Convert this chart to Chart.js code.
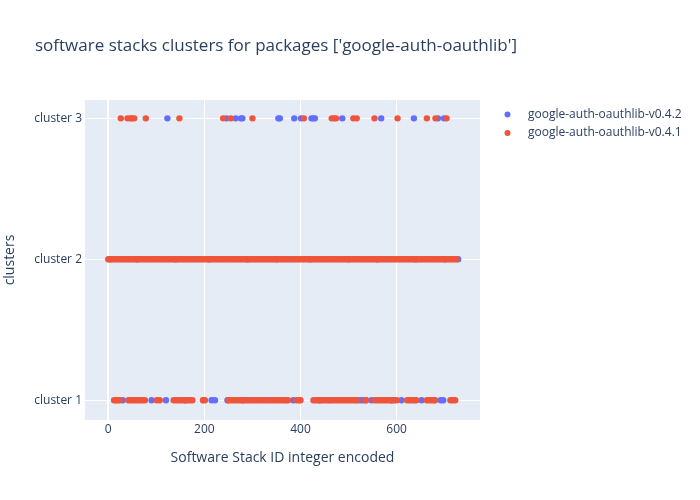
<!DOCTYPE html>
<html>
<head>
<meta charset="utf-8">
<script src="https://cdn.jsdelivr.net/npm/chart.js@4"></script>
<style>
  html, body { margin: 0; padding: 0; background: #ffffff; }
  #wrap { position: relative; width: 700px; height: 500px; }
</style>
</head>
<body>
<div id="wrap"><canvas id="c" width="700" height="500"></canvas></div>
<script>
const chartTitle = "software stacks clusters for packages ['google-auth-oauthlib']";
const xTitle = "Software Stack ID integer encoded";
const yTitle = "clusters";
const categories = ["cluster 1", "cluster 2", "cluster 3"];
const seriesNames = ["google-auth-oauthlib-v0.4.2", "google-auth-oauthlib-v0.4.1"];
const seriesColors = ["#636efa", "#EF553B"];

// google-auth-oauthlib-v0.4.2 (blue)
const blueCluster1 = [30, 90, 120, 160, 215, 222, 248, 280, 290, 330, 385, 440, 461, 524, 530, 548, 590, 610, 652, 692, 697];
const blueCluster2 = [3, 60, 140, 210, 290, 350, 420, 500, 560, 640, 700, 728];
const blueCluster3 = [123, 246, 265, 276, 279, 354, 357, 387, 401, 423, 427, 430, 487, 568, 636, 686, 699];

// google-auth-oauthlib-v0.4.1 (red)
const redCluster1 = [12, 16, 20, 24, 42, 47, 52, 57, 62, 67, 72, 76, 101, 107,
  136, 141, 146, 151, 156, 161, 166, 171, 175, 197, 201,
  250, 255, 260, 265, 270, 275, 280, 285, 295, 300, 305, 310, 315, 320, 325,
  335, 340, 345, 350, 355, 360, 365, 370, 374, 392, 397, 400,
  427, 432, 437, 442, 447, 452, 457, 465, 470, 475, 480, 485, 490, 495, 500, 505, 510, 515, 518,
  535, 537, 555, 560, 565, 570, 575, 580, 585, 590, 595, 600,
  622, 627, 632, 637, 641, 663, 668, 673, 678, 680, 712, 717, 722];
const redCluster2 = [0, 4, 8, 12, 16, 20, 24, 28, 32, 36, 40, 44, 48, 52, 56, 60, 64, 68, 72, 76,
  80, 84, 88, 92, 96, 100, 104, 108, 112, 116, 120, 124, 128, 132, 136, 140, 144, 148, 152, 156,
  160, 164, 168, 172, 176, 180, 184, 188, 192, 196, 200, 204, 208, 212, 216, 220, 224, 228, 232, 236,
  240, 244, 248, 252, 256, 260, 264, 268, 272, 276, 280, 284, 288, 292, 296, 300, 304, 308, 312, 316,
  320, 324, 328, 332, 336, 340, 344, 348, 352, 356, 360, 364, 368, 372, 376, 380, 384, 388, 392, 396,
  400, 404, 408, 412, 416, 420, 424, 428, 432, 436, 440, 444, 448, 452, 456, 460, 464, 468, 472, 476,
  480, 484, 488, 492, 496, 500, 504, 508, 512, 516, 520, 524, 528, 532, 536, 540, 544, 548, 552, 556,
  560, 564, 568, 572, 576, 580, 584, 588, 592, 596, 600, 604, 608, 612, 616, 620, 624, 628, 632, 636,
  640, 644, 648, 652, 656, 660, 664, 668, 672, 676, 680, 684, 688, 692, 696, 700, 704, 708, 712, 716,
  720, 724];
const redCluster3 = [26, 40, 46, 49, 54, 78, 148, 239, 255, 300, 407, 465, 470, 474, 510, 517, 554, 602, 663, 681, 704];

const xTicks = [0, 200, 400, 600];

function pts(c1, c2, c3) {
  return [
    ...c1.map(x => ({ x, y: categories.indexOf("cluster 1") })),
    ...c2.map(x => ({ x, y: categories.indexOf("cluster 2") })),
    ...c3.map(x => ({ x, y: categories.indexOf("cluster 3") }))
  ];
}

const font = "'Open Sans', 'Noto Sans', sans-serif";
const textColor = "#2a3f5f";

const bgPlugin = {
  id: 'bg',
  beforeDraw(chart) {
    const { ctx, chartArea: a } = chart;
    ctx.save();
    ctx.fillStyle = '#E5ECF6';
    ctx.fillRect(a.left, a.top, a.right - a.left, a.bottom - a.top);
    ctx.restore();
  },
  afterDraw(chart) {
    const { ctx } = chart;
    ctx.save();
    ctx.fillStyle = textColor;
    ctx.textBaseline = 'middle';
    ctx.textAlign = 'left';
    ctx.font = "17px " + font;
    ctx.fillText(chartTitle, 35, 46);
    ctx.font = "12px " + font;
    const ly = [114.5, 133];
    seriesNames.forEach((n, i) => {
      ctx.beginPath();
      ctx.fillStyle = seriesColors[i];
      ctx.arc(507.5, ly[i], 3, 0, Math.PI * 2);
      ctx.fill();
      ctx.fillStyle = textColor;
      ctx.fillText(n, 528, ly[i]);
    });
    ctx.restore();
  }
};

new Chart(document.getElementById('c'), {
  type: 'scatter',
  data: {
    datasets: [
      { label: seriesNames[0], data: pts(blueCluster1, blueCluster2, blueCluster3),
        backgroundColor: seriesColors[0], pointRadius: 3.2, borderWidth: 0, order: 2 },
      { label: seriesNames[1], data: pts(redCluster1, redCluster2, redCluster3),
        backgroundColor: seriesColors[1], pointRadius: 3.2, borderWidth: 0, order: 1 }
    ]
  },
  options: {
    responsive: false,
    animation: false,
    events: [],
    layout: { padding: { left: 0, right: 220, top: 100, bottom: 30 } },
    plugins: { legend: { display: false }, title: { display: false }, tooltip: { enabled: false } },
    scales: {
      x: {
        type: 'linear', min: -48.5, max: 773.6,
        afterFit(s) { s.height = 50; },
        afterBuildTicks(s) { s.ticks = xTicks.map(v => ({ value: v })); },
        border: { display: false },
        grid: { color: '#ffffff', lineWidth: c => (c.tick && c.tick.value === 0 ? 2 : 1), drawTicks: false },
        ticks: { color: textColor, font: { family: font, size: 12 }, padding: 2, maxRotation: 0 },
        title: { display: true, text: xTitle, color: textColor, font: { family: font, size: 14 }, padding: { top: 4, bottom: 4 } }
      },
      y: {
        type: 'linear', min: -0.14, max: 2.13,
        afterFit(s) { s.width = 85; },
        afterBuildTicks(s) { s.ticks = categories.map((c, i) => ({ value: i })); },
        border: { display: false },
        grid: { color: '#ffffff', lineWidth: 1, drawTicks: false },
        ticks: { color: textColor, font: { family: font, size: 12 }, padding: 3,
          callback: v => categories[v] },
        title: { display: true, text: yTitle, color: textColor, font: { family: font, size: 14 }, padding: { top: 2, bottom: 2 } }
      }
    }
  },
  plugins: [bgPlugin]
});
</script>
</body>
</html>
